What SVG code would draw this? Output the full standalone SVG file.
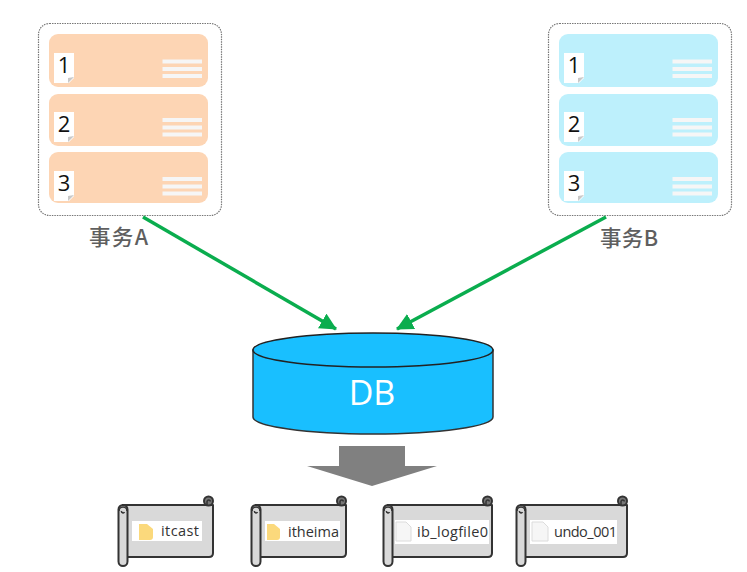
<svg xmlns="http://www.w3.org/2000/svg" width="747" height="572" viewBox="0 0 747 572">
<style>
.outer{fill:#fff;stroke:#777;stroke-width:1.200;stroke-dasharray:1.500 1}
.a{fill:#fdd5b4}.b{fill:#bdf0fc}
.note{fill:#fff}.fold{fill:#c8c8c8}
.bar{stroke:#f6f6f6;stroke-width:3.800;fill:none}
.num{font:22px "Open Sans","Liberation Sans",sans-serif;fill:#111;text-anchor:middle}
.cap{font:500 21.500px "Noto Sans CJK SC","Noto Sans",sans-serif;fill:#5f5f5f}
.scroll{fill:#d9d9d9;stroke:#333;stroke-width:2;stroke-linejoin:round}
.curl{fill:#777;stroke:#333;stroke-width:2}
.inner{fill:none;stroke:#333;stroke-width:1.500}
.panel{fill:#fff}
.file{font:14.500px "Open Sans","Liberation Sans",sans-serif;fill:#333}
.folder{fill:#fbd97c}.doc{fill:#f6f6f6;stroke:#dcdcdc;stroke-width:1}
.conn{stroke:#0aad4e;stroke-width:3.500;fill:none;marker-end:url(#g)}
</style>
<defs>
<marker id="g" markerUnits="userSpaceOnUse" markerWidth="18" markerHeight="18" refX="16" refY="8.500" orient="auto"><path d="M0 0L17 8.500L0 17z" fill="#0aad4e"/></marker>
<g id="card-rows">
<path class="bar" d="M162.500 61.500H202M162.500 69H202M162.500 76H202"/>
</g>
<g id="doc">
<path class="note" d="M54 0H74V25L69 30H54z"/><path class="fold" d="M68 30L74 24L68 25z"/>
</g>
<g id="rightcurl">
<circle class="curl" cx="0" cy="0" r="4.500"/><path class="inner" d="M-1.500 4V0.500a1.800 1.800 0 0 1 3.500 0"/>
</g>
<g id="leftcurl">
<path class="inner" d="M-4 1a4 4 0 0 1 8 0M-1.500 1a1.600 1.600 0 0 0 3 1"/>
</g>
</defs>
<g id="txA">
<rect class="outer" x="38.500" y="23.500" width="183" height="192" rx="11"/>
<rect class="a" x="49" y="34" width="159" height="53" rx="9"/>
<rect class="a" x="49" y="94" width="159" height="52" rx="9"/>
<rect class="a" x="49" y="152" width="159" height="51" rx="9"/>
<use href="#doc" y="53"/><use href="#doc" y="112"/><use href="#doc" y="171"/>
<use href="#card-rows"/><use href="#card-rows" y="58.500"/><use href="#card-rows" y="117.500"/>
<text class="num" x="64" y="73">1</text><text class="num" x="64" y="132">2</text><text class="num" x="64" y="191">3</text>
<text class="cap" x="89" y="245" textLength="59">事务A</text>
</g>
<g id="txB" transform="translate(510 0)">
<rect class="outer" x="38.500" y="23.500" width="183" height="192" rx="11"/>
<rect class="b" x="49" y="34" width="159" height="53" rx="9"/>
<rect class="b" x="49" y="94" width="159" height="52" rx="9"/>
<rect class="b" x="49" y="152" width="159" height="51" rx="9"/>
<use href="#doc" y="53"/><use href="#doc" y="112"/><use href="#doc" y="171"/>
<use href="#card-rows"/><use href="#card-rows" y="58.500"/><use href="#card-rows" y="117.500"/>
<text class="num" x="64" y="73">1</text><text class="num" x="64" y="132">2</text><text class="num" x="64" y="191">3</text>
<text class="cap" x="90" y="246" textLength="58">事务B</text>
</g>
<g id="connectors">
<path class="conn" d="M143 217L336 329"/>
<path class="conn" d="M606 217L397 329"/>
</g>
<g id="db">
<path d="M253 350V417A120 17 0 0 0 493 417V350z" fill="#19bfff" stroke="#333" stroke-width="1.500"/>
<ellipse cx="373" cy="350" rx="120" ry="17" fill="#19bfff" stroke="#222" stroke-width="1.500"/>
<text x="372" y="405" font-family="'Open Sans','Liberation Sans',sans-serif" font-size="34" fill="#fff" text-anchor="middle">DB</text>
</g>
<g id="down-arrow"><path d="M339 446H405V466H437L372 486L307 466H339z" fill="#808080"/></g>
<g id="itcast">
<path class="scroll" d="M122 505H213V553Q213 557 209 557H127V509"/>
<rect class="scroll" x="118.500" y="505" width="9" height="61" rx="4.500"/>
<use href="#leftcurl" x="123" y="510"/><use href="#rightcurl" x="208.500" y="501"/>
<rect class="panel" x="132" y="521" width="70" height="20"/>
<path class="folder" d="M139 524H147L153 529V537Q153 540 150 540H139z"/>
<text class="file" x="161" y="536" textLength="38">itcast</text>
</g>
<g id="itheima">
<path class="scroll" d="M255 505H346V553Q346 557 342 557H260V509"/>
<rect class="scroll" x="251.500" y="505" width="9" height="61" rx="4.500"/>
<use href="#leftcurl" x="256" y="510"/><use href="#rightcurl" x="341.500" y="501"/>
<rect class="panel" x="265" y="521" width="75" height="20"/>
<path class="folder" d="M267 524H274L280 529V537Q280 540 277 540H267z"/>
<text class="file" x="288" y="537" textLength="51">itheima</text>
</g>
<g id="ib_logfile0">
<path class="scroll" d="M387 505H492V553Q492 557 488 557H392V509"/>
<rect class="scroll" x="383.500" y="505" width="9" height="61" rx="4.500"/>
<use href="#leftcurl" x="388" y="510"/><use href="#rightcurl" x="487.500" y="501"/>
<rect class="panel" x="395" y="520" width="94" height="24"/>
<path class="doc" d="M396 522H406L411 527V541H396z"/>
<text class="file" x="417" y="537" textLength="71">ib_logfile0</text>
</g>
<g id="undo_001">
<path class="scroll" d="M520 505H627V553Q627 557 623 557H525V509"/>
<rect class="scroll" x="516.500" y="505" width="9" height="61" rx="4.500"/>
<use href="#leftcurl" x="521" y="510"/><use href="#rightcurl" x="622.500" y="501"/>
<rect class="panel" x="530" y="520" width="87" height="24"/>
<path class="doc" d="M532 522H543L548 527V541H532z"/>
<text class="file" x="554" y="537" textLength="63">undo_001</text>
</g>
</svg>
